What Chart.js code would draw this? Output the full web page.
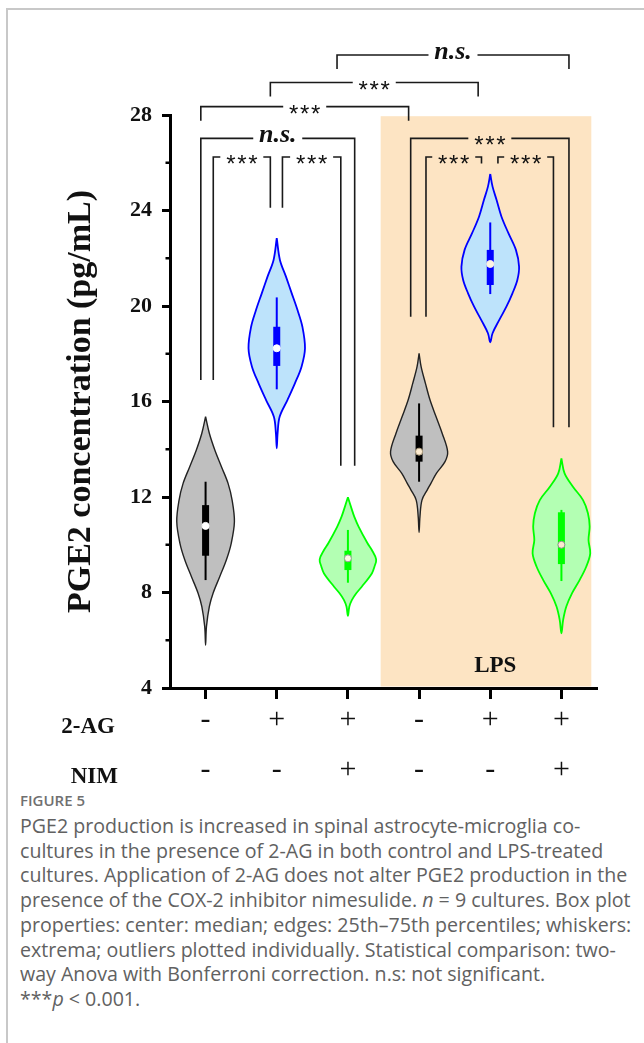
<!DOCTYPE html>
<html>
<head>
<meta charset="utf-8">
<script src="https://cdn.jsdelivr.net/npm/chart.js@4.4.1/dist/chart.umd.min.js"></script>
<style>
html, body { margin: 0; padding: 0; background: #fff; }
#frame { position: absolute; left: 6px; top: 8px; width: 700px; height: 1100px; border-top: 2px solid #c8c8c8; border-left: 2px solid #c8c8c8; }
#wrap { position: absolute; left: 0; top: 0; width: 644px; height: 790px; }
#figno { position: absolute; left: 20px; top: 791px; font-family: "Open Sans"; font-size: 15px; line-height: 18px; font-weight: 600; color: #707070; }
#cap { position: absolute; left: 20px; top: 814px; font-family: "Open Sans"; font-size: 19.6px; line-height: 24.7px; color: #616161; white-space: nowrap; }
</style>
</head>
<body>
<div id="frame"></div>
<div id="wrap"><canvas id="c" width="644" height="790"></canvas></div>
<div id="figno">FIGURE 5</div>
<div id="cap">PGE2 production is increased in spinal astrocyte-microglia co-<br>cultures in the presence of 2-AG in both control and LPS-treated<br>cultures. Application of 2-AG does not alter PGE2 production in the<br>presence of the COX-2 inhibitor nimesulide. <i>n</i>&nbsp;=&nbsp;9 cultures. Box plot<br>properties: center: median; edges: 25th–75th percentiles; whiskers:<br>extrema; outliers plotted individually. Statistical comparison: two-<br>way Anova with Bonferroni correction. n.s: not significant.<br>***<i>p</i>&nbsp;&lt;&nbsp;0.001.</div>
<script>
// groups (x positions 0..5)
var groups = ['Ctrl', '2-AG', '2-AG + NIM', 'LPS', 'LPS + 2-AG', 'LPS + 2-AG + NIM'];
var agRow = ['-', '+', '+', '-', '+', '+'];
var nimRow = ['-', '-', '+', '-', '-', '+'];
var yTicks = [4, 8, 12, 16, 20, 24, 28];

// violin outlines: value (pg/mL) and relative density
var v0Val = [15.36, 14.67, 13.97, 13.27, 12.57, 11.87, 10.97, 10.06, 9.36, 8.66, 7.97, 7.41, 6.57, 5.80];
var v0Den = [0, 0.13, 0.32, 0.55, 0.78, 0.92, 1.0, 0.89, 0.72, 0.49, 0.26, 0.13, 0.03, 0];
var v1Val = [22.84, 21.93, 21.23, 20.53, 19.83, 19.13, 18.23, 17.46, 16.76, 16.06, 15.36, 14.67, 14.04];
var v1Den = [0, 0.11, 0.32, 0.52, 0.72, 0.89, 0.98, 0.86, 0.63, 0.37, 0.10, 0.03, 0];
var v2Val = [11.99, 11.46, 11.18, 10.76, 10.06, 9.78, 9.39, 9.08, 8.80, 8.24, 7.97, 7.69, 7.41, 7.02];
var v2Den = [0, 0.14, 0.22, 0.37, 0.68, 0.83, 0.98, 0.92, 0.83, 0.48, 0.29, 0.14, 0.05, 0];
var v3Val = [18.02, 17.46, 16.76, 16.06, 15.36, 14.67, 13.90, 13.48, 12.99, 12.57, 12.29, 11.87, 11.17, 10.52];
var v3Den = [0, 0.07, 0.22, 0.38, 0.59, 0.80, 0.99, 0.90, 0.60, 0.41, 0.28, 0.10, 0.03, 0];
var v4Val = [25.53, 25.00, 24.44, 23.74, 23.05, 22.35, 21.65, 21.09, 20.53, 19.97, 19.41, 18.86, 18.48];
var v4Den = [0, 0.08, 0.22, 0.39, 0.63, 0.89, 1.0, 0.94, 0.77, 0.56, 0.31, 0.08, 0];
var v5Val = [13.62, 12.99, 12.43, 11.87, 11.32, 10.76, 10.20, 9.64, 9.08, 8.52, 7.97, 7.41, 6.85, 6.29];
var v5Den = [0, 0.11, 0.40, 0.75, 0.92, 0.98, 0.94, 1.0, 0.86, 0.63, 0.37, 0.17, 0.06, 0];

// box plot stats
var whiskLo = [8.52, 16.51, 8.41, 12.64, 20.50, 8.48];
var q1 = [9.54, 17.49, 8.94, 13.48, 20.88, 9.19];
var median = [10.79, 18.23, 9.43, 13.90, 21.76, 10.00];
var q3 = [11.66, 19.13, 9.75, 14.57, 22.35, 11.36];
var whiskHi = [12.64, 20.36, 10.62, 15.92, 23.50, 11.46];

// significance brackets: left x, right x, level, left leg end, right leg end, label
var brX1 = [1.847, 0.91, -0.067, -0.067, 0.108, 1.08, 2.882, 3.097, 4.108];
var brX2 = [5.106, 3.83, 2.853, 2.095, 0.91, 1.90, 5.106, 3.877, 4.888];
var brY = [30.51, 29.36, 28.35, 27.02, 26.24, 26.24, 27.02, 26.24, 26.24];
var brLeg1 = [29.93, 28.77, 27.76, 16.90, 16.90, 24.12, 19.55, 19.55, 25.97];
var brLeg2 = [29.93, 28.77, 27.76, 13.31, 24.12, 13.31, 14.92, 25.97, 14.92];
var brText = ['n.s.', '***', '***', 'n.s.', '***', '***', '***', '***', '***'];

var violinVals = [v0Val, v1Val, v2Val, v3Val, v4Val, v5Val];
var violinDens = [v0Den, v1Den, v2Den, v3Den, v4Den, v5Den];

var fillCol = ['#bfbfbf', '#bde3fb', '#b3ffb3', '#bfbfbf', '#bde3fb', '#b3ffb3'];
var lineCol = ['#222222', '#0000ff', '#00ff00', '#222222', '#0000ff', '#00ff00'];
var boxCol = ['#000000', '#0000ff', '#00ff00', '#000000', '#0000ff', '#00ff00'];
var dotCol = ['#ffffff', '#ffffff', '#fffbe8', '#fdebd0', '#fdf3e3', '#fdebd0'];
var dotEdge = ['#ffffff', '#ffffff', '#9a9a9a', '#b0a080', '#fdf3e3', '#909090'];
var HALF = 0.405; // max half width of a violin, in group units

function violinPts(i) {
    var vals = violinVals[i], den = violinDens[i];
    var right = vals.map(function (v, k) { return { x: i + den[k] * HALF, y: v }; });
    var left = [];
    for (var k = vals.length - 2; k >= 0; k--) left.push({ x: i - den[k] * HALF, y: vals[k] });
    return right.concat(left);
}

var datasets = [];
for (var i = 0; i < groups.length; i++) {
    datasets.push({ data: [{ x: i, y: median[i] }], showLine: false, pointRadius: 3.5, pointBackgroundColor: dotCol[i], pointBorderColor: dotEdge[i], pointBorderWidth: 1, order: 1 });
    datasets.push({ data: [{ x: i, y: q1[i] }, { x: i, y: q3[i] }], borderColor: boxCol[i], borderWidth: 7, borderCapStyle: 'butt', pointRadius: 0, order: 2 });
    datasets.push({ data: [{ x: i, y: whiskLo[i] }, { x: i, y: whiskHi[i] }], borderColor: boxCol[i], borderWidth: 2, pointRadius: 0, order: 3 });
    datasets.push({ data: violinPts(i), borderColor: lineCol[i], backgroundColor: fillCol[i], borderWidth: i % 3 === 0 ? 1.4 : 1.8, fill: 'shape', tension: 0.35, pointRadius: 0, order: 4 });
}

var extras = {
    id: 'extras',
    beforeDatasetsDraw: function (chart) {
        var ctx = chart.ctx, xs = chart.scales.x, ys = chart.scales.y, a = chart.chartArea;
        // LPS band
        var bx1 = xs.getPixelForValue(2.46), bx2 = xs.getPixelForValue(5.42);
        var by = ys.getPixelForValue(27.95);
        ctx.save();
        ctx.fillStyle = '#fde4c3';
        ctx.fillRect(bx1, by, bx2 - bx1, a.bottom - 1.5 - by);
        ctx.fillStyle = '#111';
        ctx.font = 'bold 23px "Liberation Serif"';
        ctx.textAlign = 'center'; ctx.textBaseline = 'alphabetic';
        ctx.fillText('LPS', xs.getPixelForValue(4.07), a.bottom - 16);
        ctx.restore();
    },
    afterDraw: function (chart) {
        var ctx = chart.ctx, xs = chart.scales.x, ys = chart.scales.y, a = chart.chartArea;
        ctx.save();
        // minor ticks on y
        ctx.strokeStyle = '#000'; ctx.lineWidth = 2.5;
        for (var v = 6; v < 28; v += 4) {
            var py = ys.getPixelForValue(v);
            ctx.beginPath(); ctx.moveTo(a.left - 4.5, py); ctx.lineTo(a.left, py); ctx.stroke();
        }
        // row labels
        ctx.fillStyle = '#111';
        ctx.font = 'bold 23px "Liberation Serif"';
        ctx.textAlign = 'right'; ctx.textBaseline = 'alphabetic';
        ctx.fillText('2-AG', 115, a.bottom + 45);
        ctx.fillText('NIM', 118, a.bottom + 95);
        // brackets
        ctx.strokeStyle = '#1a1a1a'; ctx.lineWidth = 1.6;
        for (var k = 0; k < brText.length; k++) {
            var x1 = xs.getPixelForValue(brX1[k]), x2 = xs.getPixelForValue(brX2[k]);
            var y = ys.getPixelForValue(brY[k]);
            var yl = ys.getPixelForValue(brLeg1[k]), yr = ys.getPixelForValue(brLeg2[k]);
            var mid = (x1 + x2) / 2, gap = brText[k] === 'n.s.' ? 24.5 : 21.5;
            ctx.beginPath();
            ctx.moveTo(x1, yl); ctx.lineTo(x1, y); ctx.lineTo(mid - gap, y);
            ctx.moveTo(mid + gap, y); ctx.lineTo(x2, y); ctx.lineTo(x2, yr);
            ctx.stroke();
            ctx.textAlign = 'center'; ctx.textBaseline = 'alphabetic';
            if (brText[k] === 'n.s.') {
                ctx.font = 'italic bold 26px "Liberation Serif"';
                ctx.fillText('n.s.', mid, y + 4);
            } else {
                ctx.font = '24px "Liberation Sans"';
                for (var s = -1; s <= 1; s++) ctx.fillText('*', mid + s * 11, y + 15);
            }
        }
        ctx.restore();
    }
};

new Chart(document.getElementById('c'), {
    type: 'line',
    data: { datasets: datasets },
    options: {
        responsive: false, animation: false, devicePixelRatio: 1,
        layout: { padding: { left: 0, right: 47, top: 115, bottom: 0 } },
        plugins: { legend: { display: false }, tooltip: { enabled: false } },
        scales: {
            x: {
                type: 'linear', min: -0.5, max: 5.5,
                afterFit: function (s) { s.height = 102; },
                afterBuildTicks: function (s) { s.ticks = groups.map(function (g, i) { return { value: i }; }); },
                grid: { drawOnChartArea: false, tickLength: 11, tickWidth: 3, tickColor: '#000' },
                border: { color: '#000', width: 3 },
                ticks: {
                    padding: -4, color: '#111',
                    font: { family: 'Liberation Serif', size: 30, lineHeight: 50 / 30 },
                    callback: function (v) { return [agRow[v], nimRow[v]]; }
                }
            },
            y: {
                min: 4, max: 28,
                afterFit: function (s) { s.width = 170; },
                afterBuildTicks: function (s) { s.ticks = yTicks.map(function (t) { return { value: t }; }); },
                grid: { drawOnChartArea: false, tickLength: 8, tickWidth: 3, tickColor: '#000' },
                border: { color: '#000', width: 3 },
                ticks: { padding: 10, color: '#111', font: { family: 'Liberation Serif', size: 22, weight: 'bold' } },
                title: { display: true, text: 'PGE2 concentration (pg/mL)', color: '#111', padding: { top: 61, bottom: 0 }, font: { family: 'Liberation Serif', size: 34, weight: 'bold' } }
            }
        }
    },
    plugins: [extras]
});
</script>
</body>
</html>
